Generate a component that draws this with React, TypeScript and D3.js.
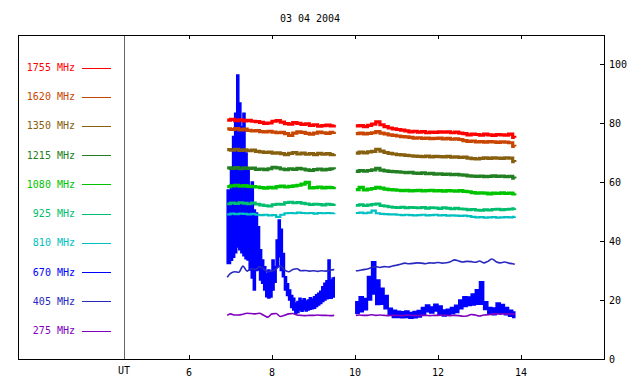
import React from "react";
import * as d3 from "d3";

const title = "03 04 2004";
const freqLabels = ["1755 MHz", "1620 MHz", "1350 MHz", "1215 MHz", "1080 MHz", "925 MHz", "810 MHz", "670 MHz", "405 MHz", "275 MHz"];
const freqColors = ["#ff0000", "#c84600", "#86600e", "#228022", "#00c400", "#00be6e", "#00c0c0", "#0000ff", "#2828c0", "#8000c0"];
const xTicks = [6, 8, 10, 12, 14];
const yTicks = [0, 20, 40, 60, 80, 100];

// time (UT hours) of samples
const tLeft = [6.92, 7.0, 7.1, 7.2, 7.3, 7.4, 7.5, 7.6, 7.7, 7.8, 7.9, 8.0, 8.1, 8.2, 8.3, 8.4, 8.5, 8.6, 8.7, 8.8, 8.9, 9.0, 9.1, 9.2, 9.3, 9.4, 9.5];
const tRight = [10.02, 10.1, 10.2, 10.3, 10.4, 10.5, 10.6, 10.7, 10.8, 10.9, 11.0, 11.1, 11.2, 11.3, 11.4, 11.5, 11.6, 11.7, 11.8, 11.9, 12.0, 12.1, 12.2, 12.3, 12.4, 12.5, 12.6, 12.7, 12.8, 12.9, 13.0, 13.1, 13.2, 13.3, 13.4, 13.5, 13.6, 13.7, 13.8, 13.85];
const t670Left = [6.92, 7.0, 7.05, 7.1, 7.15, 7.2, 7.25, 7.3, 7.35, 7.4, 7.45, 7.5, 7.55, 7.6, 7.65, 7.7, 7.75, 7.8, 7.85, 7.9, 7.95, 8.0, 8.05, 8.1, 8.15, 8.2, 8.25, 8.3, 8.35, 8.4, 8.45, 8.5, 8.55, 8.6, 8.65, 8.7, 8.75, 8.8, 8.85, 8.9, 8.95, 9.0, 9.05, 9.1, 9.15, 9.2, 9.25, 9.3, 9.35, 9.4, 9.45, 9.5];

// flux values per frequency
const f1755L = [81.0, 81.2, 80.8, 81.1, 80.7, 80.9, 80.6, 80.5, 80.2, 79.9, 80.0, 80.6, 80.8, 80.3, 79.8, 79.6, 80.1, 79.9, 79.5, 79.7, 79.2, 79.4, 78.9, 79.1, 79.3, 79.0, 79.4];
const f1755R = [79.0, 79.1, 78.8, 79.2, 79.6, 80.4, 79.4, 78.8, 78.3, 78.0, 77.8, 77.6, 77.3, 77.0, 77.2, 76.9, 77.1, 76.7, 76.9, 76.8, 77.0, 76.9, 77.0, 76.7, 76.9, 76.6, 76.4, 76.0, 76.2, 76.1, 75.9, 76.2, 76.0, 75.8, 76.1, 76.0, 75.9, 76.2, 75.1, 75.0];
const f1620L = [78.0, 77.8, 78.1, 77.7, 77.9, 77.5, 77.3, 77.4, 77.1, 77.0, 77.2, 76.9, 76.7, 76.8, 76.4, 75.8, 76.6, 77.0, 76.8, 76.5, 76.2, 76.6, 76.9, 76.7, 76.5, 76.8, 77.0];
const f1620R = [76.4, 76.6, 76.3, 76.5, 76.7, 77.1, 76.6, 76.3, 76.0, 75.8, 75.6, 75.4, 75.3, 75.1, 74.9, 75.0, 74.8, 74.9, 74.7, 74.8, 74.9, 74.6, 74.8, 74.5, 74.6, 74.4, 74.0, 73.8, 73.9, 73.6, 73.7, 73.5, 73.7, 73.6, 73.4, 73.6, 73.5, 73.3, 72.1, 72.0];
const f1350L = [71.0, 70.8, 71.1, 70.7, 70.9, 70.6, 70.8, 70.4, 70.2, 70.0, 70.1, 69.8, 69.9, 69.6, 69.3, 69.7, 70.0, 69.5, 69.8, 69.4, 69.6, 69.3, 69.7, 69.4, 69.6, 69.3, 69.5];
const f1350R = [69.8, 70.1, 69.9, 70.2, 70.4, 71.1, 70.5, 70.0, 69.7, 69.5, 69.3, 69.2, 69.0, 68.9, 68.8, 68.7, 68.6, 68.8, 68.5, 68.7, 68.6, 68.5, 68.7, 68.4, 68.5, 68.3, 68.4, 68.1, 67.9, 67.8, 68.0, 68.2, 68.0, 68.2, 68.1, 68.0, 68.2, 68.1, 66.9, 66.8];
const f1215L = [64.8, 64.6, 64.9, 64.5, 64.8, 64.6, 64.7, 64.3, 64.4, 64.2, 64.5, 65.0, 64.8, 64.4, 64.2, 64.5, 64.3, 64.6, 64.4, 64.1, 63.9, 64.2, 64.4, 64.1, 64.3, 64.5, 64.3];
const f1215R = [63.6, 63.9, 63.7, 63.9, 64.1, 64.6, 64.0, 63.8, 63.6, 63.5, 63.4, 63.3, 63.2, 63.3, 63.0, 62.9, 63.1, 62.8, 62.9, 62.7, 62.8, 62.6, 62.7, 62.5, 62.6, 62.4, 62.3, 62.1, 62.0, 61.9, 62.0, 61.8, 61.9, 62.1, 61.9, 62.0, 61.8, 61.9, 61.3, 61.2];
const f1080L = [58.4, 58.7, 58.9, 58.6, 58.8, 58.5, 58.4, 58.3, 58.1, 57.9, 58.2, 58.0, 58.4, 58.6, 58.3, 58.5, 58.7, 58.9, 59.3, 59.9, 58.0, 58.1, 58.3, 58.0, 58.2, 58.1, 58.3];
const f1080R = [57.4, 58.2, 57.3, 57.6, 57.8, 58.2, 57.9, 57.6, 57.4, 57.3, 57.2, 57.1, 57.2, 57.0, 57.1, 57.2, 57.0, 57.1, 57.2, 57.0, 57.1, 56.9, 57.1, 57.0, 56.9, 57.1, 56.8, 56.7, 56.4, 56.2, 56.3, 56.2, 56.0, 56.2, 56.1, 56.3, 56.1, 56.2, 56.0, 56.2];
const f925L = [52.6, 52.9, 52.7, 53.0, 52.8, 52.6, 52.9, 52.5, 52.2, 52.0, 51.8, 52.3, 52.5, 52.4, 53.0, 53.2, 52.9, 53.1, 52.8, 52.6, 52.3, 52.5, 52.4, 52.2, 52.5, 52.3, 52.6];
const f925R = [52.1, 52.3, 52.0, 52.2, 52.4, 52.6, 52.0, 51.8, 51.6, 51.4, 51.3, 51.5, 51.2, 51.4, 51.3, 51.2, 51.4, 51.1, 51.3, 51.2, 51.0, 51.3, 51.1, 50.9, 51.1, 50.9, 50.8, 50.6, 50.7, 50.5, 50.4, 50.6, 50.5, 50.7, 50.8, 50.6, 50.7, 50.8, 51.0, 51.1];
const f810L = [49.0, 49.3, 49.1, 49.3, 49.2, 49.0, 49.2, 48.9, 48.8, 48.9, 48.7, 48.8, 48.2, 48.9, 49.4, 49.5, 49.4, 49.6, 49.5, 49.4, 49.5, 49.3, 49.5, 49.4, 49.5, 49.4, 49.5];
const f810R = [49.5, 49.6, 49.4, 49.6, 50.3, 49.4, 49.2, 49.1, 49.0, 49.0, 48.9, 48.8, 48.9, 48.8, 48.7, 48.8, 48.9, 48.7, 48.8, 48.9, 48.7, 48.8, 48.6, 48.7, 48.6, 48.5, 48.6, 48.4, 48.2, 48.0, 48.1, 47.9, 48.0, 48.1, 47.9, 48.0, 48.1, 48.0, 48.2, 48.3];
const f670LMax = [57.3, 64.0, 75.4, 83.3, 96.3, 86.8, 78.7, 83.3, 69.8, 64.0, 58.4, 60.0, 50.5, 49.5, 44.8, 37.0, 33.6, 31.3, 29.0, 30.2, 29.5, 33.6, 31.3, 40.3, 47.1, 44.0, 35.8, 27.9, 25.5, 23.4, 21.5, 20.6, 18.9, 19.5, 20.6, 19.8, 20.4, 19.6, 20.0, 20.8, 20.3, 21.1, 21.8, 22.3, 23.0, 24.5, 25.7, 26.5, 33.6, 26.8, 27.5, 27.9];
const f670LMin = [32.4, 33.5, 34.5, 36.0, 38.0, 37.0, 36.0, 35.0, 34.0, 33.6, 30.2, 27.5, 23.4, 30.0, 30.2, 26.8, 25.7, 23.4, 21.1, 20.7, 21.0, 23.4, 26.0, 31.3, 34.7, 30.0, 27.9, 23.4, 21.5, 20.0, 17.5, 16.6, 15.5, 15.8, 16.6, 16.2, 16.8, 16.3, 16.6, 16.9, 17.0, 17.2, 17.8, 18.3, 18.8, 19.5, 20.0, 20.4, 20.6, 20.6, 21.0, 21.1];
const f670RMax = [19.4, 21.1, 20.5, 28.0, 33.0, 26.8, 24.0, 21.5, 17.2, 16.5, 16.2, 16.0, 16.3, 15.8, 16.1, 16.4, 17.5, 18.3, 17.6, 18.6, 18.0, 16.6, 16.9, 17.5, 18.2, 20.0, 21.1, 21.0, 22.0, 23.5, 26.2, 19.4, 17.5, 17.3, 19.0, 18.5, 17.5, 16.5, 15.9, 15.9];
const f670RMin = [15.5, 16.0, 16.7, 20.0, 22.0, 18.5, 18.6, 17.0, 14.9, 14.1, 14.1, 14.0, 14.1, 13.8, 14.0, 14.2, 15.0, 16.0, 15.6, 16.3, 15.2, 14.6, 15.0, 15.3, 15.8, 17.0, 17.8, 18.1, 18.3, 18.6, 18.6, 16.8, 15.5, 15.0, 15.5, 15.5, 15.0, 14.5, 14.1, 14.1];
const f405L = [27.7, 29.0, 29.6, 29.4, 31.5, 29.8, 30.7, 30.3, 31.3, 30.5, 29.6, 29.8, 30.5, 31.6, 30.2, 29.6, 30.3, 30.6, 29.9, 30.0, 29.8, 29.9, 29.7, 29.9, 29.8, 30.1, 30.3];
const f405R = [29.9, 30.0, 30.3, 30.5, 31.0, 31.3, 31.0, 31.3, 31.2, 31.5, 31.8, 32.1, 32.5, 32.3, 32.4, 32.6, 32.5, 32.3, 32.6, 32.5, 32.7, 32.5, 32.6, 33.0, 33.6, 33.2, 32.9, 33.1, 33.0, 32.8, 33.2, 32.6, 33.1, 33.9, 33.0, 32.6, 32.9, 32.5, 32.3, 32.1];
const f275L = [14.8, 15.3, 14.9, 14.9, 15.2, 15.5, 15.4, 15.3, 15.5, 14.8, 14.2, 15.3, 15.4, 14.4, 14.8, 15.3, 15.4, 14.9, 14.8, 14.7, 14.8, 14.8, 14.9, 14.8, 14.8, 14.7, 14.8];
const f275R = [14.8, 14.9, 14.8, 14.8, 15.0, 14.8, 14.9, 14.8, 14.7, 14.8, 14.8, 14.7, 14.8, 14.9, 14.8, 14.7, 14.8, 14.8, 14.7, 14.8, 14.8, 14.9, 14.8, 14.7, 14.8, 14.7, 14.5, 14.6, 15.1, 14.9, 14.6, 14.9, 15.0, 15.2, 15.3, 15.2, 15.3, 15.2, 15.3, 15.2];

const pair = (t: number[], v: number[]) => v.map((val, i) => [t[i], val] as [number, number]).filter((d) => d[0] !== undefined);

export default function App() {
  const W = 640, H = 384;
  const left = 18, right = 604, top = 35, bottom = 359, divider = 124;
  const x = d3.scaleLinear().domain([6, 16]).range([189, 604]);
  const y = d3.scaleLinear().domain([0, 100]).range([359, 64]);
  const legendY = d3.scaleLinear().domain([0, 9]).range([67.5, 330.5]);
  const font = "'DejaVu Sans Mono', monospace";

  const stepLine = d3.line<[number, number]>().x((d) => x(d[0])).y((d) => y(d[1])).curve(d3.curveStepAfter);
  const smoothLine = d3.line<[number, number]>().x((d) => x(d[0])).y((d) => y(d[1])).curve(d3.curveMonotoneX);
  const band = d3
    .area<[number, number, number]>()
    .x((d) => x(d[0]))
    .y0((d) => y(d[2]))
    .y1((d) => y(d[1]))
    .curve(d3.curveStepAfter);

  const quiet = [
    { L: f1755L, R: f1755R, c: freqColors[0], w: 3.2 },
    { L: f1620L, R: f1620R, c: freqColors[1], w: 3.2 },
    { L: f1350L, R: f1350R, c: freqColors[2], w: 3.2 },
    { L: f1215L, R: f1215R, c: freqColors[3], w: 3.2 },
    { L: f1080L, R: f1080R, c: freqColors[4], w: 3.2 },
    { L: f925L, R: f925R, c: freqColors[5], w: 2.8 },
    { L: f810L, R: f810R, c: freqColors[6], w: 2.2 },
  ];

  const bandL = t670Left.map((t, i) => [t, f670LMax[i], f670LMin[i]] as [number, number, number]);
  const bandR = tRight.map((t, i) => [t, f670RMax[i], f670RMin[i]] as [number, number, number]);

  return (
    <svg width={W} height={H} style={{ position: "absolute", left: 0, top: 0, background: "#fff" }}>
      <rect x={0} y={0} width={W} height={H} fill="#fff" />
      <text x={310} y={22} textAnchor="middle" fontFamily={font} fontSize={10} fill="#000">
        {title}
      </text>

      {/* 670 MHz envelope */}
      {[bandL, bandR].map((b, i) => (
        <path key={"b" + i} d={band(b) || ""} fill={freqColors[7]} stroke={freqColors[7]} strokeWidth={1.5} />
      ))}

      {/* 405 and 275 */}
      {[pair(tLeft, f405L), pair(tRight, f405R)].map((p, i) => (
        <path key={"405" + i} d={smoothLine(p) || ""} fill="none" stroke={freqColors[8]} strokeWidth={1.6} />
      ))}
      {[pair(tLeft, f275L), pair(tRight, f275R)].map((p, i) => (
        <path key={"275" + i} d={smoothLine(p) || ""} fill="none" stroke={freqColors[9]} strokeWidth={1.6} />
      ))}

      {quiet.map((s, i) => (
        <g key={"q" + i}>
          <path d={stepLine(pair(tLeft, s.L)) || ""} fill="none" stroke={s.c} strokeWidth={s.w} />
          <path d={stepLine(pair(tRight, s.R)) || ""} fill="none" stroke={s.c} strokeWidth={s.w} />
        </g>
      ))}

      {/* frame */}
      <line x1={divider + 0.5} x2={divider + 0.5} y1={top} y2={bottom} stroke="#666" strokeWidth={1} />
      <rect x={left + 0.5} y={top + 0.5} width={right - left} height={bottom - top} fill="none" stroke="#000" strokeWidth={1} />

      {/* x ticks */}
      {xTicks.map((t) => (
        <g key={"x" + t}>
          <line x1={Math.round(x(t)) + 0.5} x2={Math.round(x(t)) + 0.5} y1={top} y2={top + 4} stroke="#000" />
          <line x1={Math.round(x(t)) + 0.5} x2={Math.round(x(t)) + 0.5} y1={bottom} y2={bottom - 4} stroke="#000" />
          <text x={x(t)} y={376} textAnchor="middle" fontFamily={font} fontSize={10} fill="#000">
            {t}
          </text>
        </g>
      ))}
      <text x={divider} y={374} textAnchor="middle" fontFamily={font} fontSize={10} fill="#000">
        UT
      </text>

      {/* y ticks */}
      {yTicks.map((t) => (
        <g key={"y" + t}>
          <line x1={right} x2={right - 4} y1={Math.round(y(t)) + 0.5} y2={Math.round(y(t)) + 0.5} stroke="#000" />
          <text x={609} y={y(t) + 3.5} textAnchor="start" fontFamily={font} fontSize={10} fill="#000">
            {t}
          </text>
        </g>
      ))}

      {/* legend */}
      {freqLabels.map((lab, i) => (
        <g key={"l" + i}>
          <text x={75} y={legendY(i) + 3.5} textAnchor="end" fontFamily={font} fontSize={10} fill={freqColors[i]}>
            {lab}
          </text>
          <line x1={82} x2={111} y1={Math.round(legendY(i)) + 0.5} y2={Math.round(legendY(i)) + 0.5} stroke={freqColors[i]} strokeWidth={1} />
        </g>
      ))}
    </svg>
  );
}
